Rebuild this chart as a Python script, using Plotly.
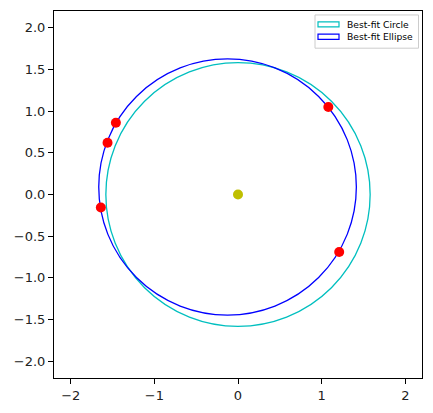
import plotly.graph_objects as go

# Data
circle_center = (0.0, 0.0)
circle_radius = 1.58

ellipse_center = (-0.125, 0.09)
ellipse_a = 1.54   # semi-axis along x
ellipse_b = 1.535  # semi-axis along y

points_x = [1.08, -1.46, -1.56, -1.64, 1.21]
points_y = [1.05, 0.86, 0.62, -0.155, -0.69]

center_x = [0.0]
center_y = [0.0]

legend_labels = ["Best-fit Circle", "Best-fit Ellipse"]
legend_colors = ["#00bfbf", "#0000ff"]

tick_vals = [-2, -1, 0, 1, 2]
ytick_vals = [-2.0, -1.5, -1.0, -0.5, 0.0, 0.5, 1.0, 1.5, 2.0]

# plot-area pixel geometry (for the matplotlib-style legend)
W, H = 433, 413
ML, MR, MT, MB = 54, 11, 10, 33
PW, PH = W - ML - MR, H - MT - MB


def fx(px):
    return (px - ML) / PW


def fy(py):
    return (H - MB - py) / PH


fig = go.Figure()
fig.add_shape(type="circle", xref="x", yref="y",
              x0=circle_center[0] - circle_radius, x1=circle_center[0] + circle_radius,
              y0=circle_center[1] - circle_radius, y1=circle_center[1] + circle_radius,
              line=dict(color=legend_colors[0], width=1.3), fillcolor="rgba(0,0,0,0)",
              name=legend_labels[0], layer="below")
fig.add_shape(type="circle", xref="x", yref="y",
              x0=ellipse_center[0] - ellipse_a, x1=ellipse_center[0] + ellipse_a,
              y0=ellipse_center[1] - ellipse_b, y1=ellipse_center[1] + ellipse_b,
              line=dict(color=legend_colors[1], width=1.3), fillcolor="rgba(0,0,0,0)",
              name=legend_labels[1], layer="below")
fig.add_trace(go.Scatter(x=points_x, y=points_y, mode="markers",
                         marker=dict(color="#ff0000", size=10, line=dict(width=0)),
                         showlegend=False))
fig.add_trace(go.Scatter(x=center_x, y=center_y, mode="markers",
                         marker=dict(color="#bfbf00", size=10, line=dict(width=0)),
                         showlegend=False))

# matplotlib-like legend box
fig.add_shape(type="rect", xref="paper", yref="paper",
              x0=fx(315), x1=fx(418.5), y0=fy(47.5), y1=fy(14),
              line=dict(color="#cccccc", width=1), fillcolor="rgba(255,255,255,0.8)",
              layer="above")
row_y = [23.5, 36]
for lab, col, ry in zip(legend_labels, legend_colors, row_y):
    fig.add_shape(type="rect", xref="paper", yref="paper",
                  x0=fx(318), x1=fx(339), y0=fy(ry + 2.6), y1=fy(ry - 2.6),
                  line=dict(color=col, width=1.2), fillcolor="rgba(0,0,0,0)",
                  layer="above")
    fig.add_annotation(text=lab, xref="paper", yref="paper",
                       x=fx(345), y=fy(ry), xanchor="left", yanchor="middle",
                       showarrow=False, font=dict(size=9.2, color="black"))

axis_common = dict(showgrid=False, zeroline=False, showline=True,
                   linecolor="black", linewidth=1, mirror=True,
                   ticks="outside", ticklen=5, tickwidth=1, tickcolor="black",
                   range=[-2.2, 2.2], tickfont=dict(size=13, color="#222"))

fig.update_layout(
    width=W, height=H,
    margin=dict(l=ML, r=MR, t=MT, b=MB),
    plot_bgcolor="white", paper_bgcolor="white",
    font=dict(family="DejaVu Sans", color="black"),
    xaxis=dict(**axis_common, tickvals=tick_vals,
               ticktext=[str(v).replace("-", "\u2212") for v in tick_vals]),
    yaxis=dict(**axis_common, tickvals=ytick_vals,
               ticktext=[f"{v:.1f}".replace("-", "\u2212") for v in ytick_vals]),
    showlegend=False,
)

fig.write_html("out.html", config={"displayModeBar": False},
               post_script="document.body.style.margin='0';")
